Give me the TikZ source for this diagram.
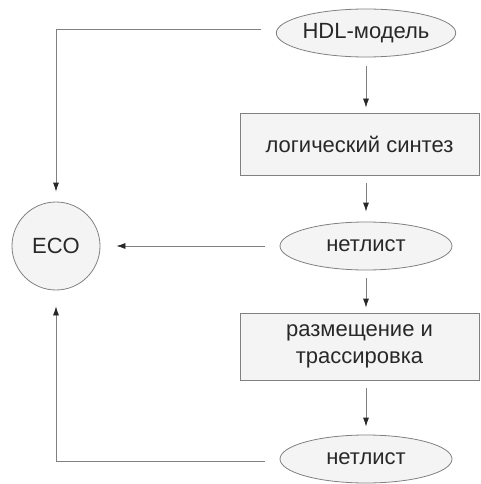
\documentclass[tikz,border=0pt]{standalone}
\usepackage{fontspec}
\setmainfont{Liberation Sans}
\usepackage{tikz}
\usetikzlibrary{positioning,arrows.meta,shapes.geometric}
\definecolor{edgegray}{RGB}{128,128,128}
\definecolor{fillgray}{RGB}{244,244,244}
\definecolor{textgray}{RGB}{40,40,40}
\tikzset{
  file-node/.style={ellipse, draw=edgegray, thick, fill=fillgray, text=textgray,
    minimum width=172pt, minimum height=48pt, inner sep=0pt,
    font=\fontsize{22}{27}\selectfont, align=center},
  step-node/.style={rectangle, draw=edgegray, thick, fill=fillgray, text=textgray,
    minimum width=239pt, inner sep=0pt,
    font=\fontsize{22}{27}\selectfont, align=center},
  eco-node/.style={circle, draw=edgegray, thick, fill=fillgray, text=textgray,
    minimum size=88pt, inner sep=0pt, font=\fontsize{22}{27}\selectfont},
  flow-arrow/.style={-{Latex[length=9pt,width=6pt,color=textgray]}, thick, draw=edgegray}
}
\begin{document}
\begin{tikzpicture}[x=1pt,y=-1pt]
\useasboundingbox (0,0) rectangle (480,484);
\node[file-node] (hdl) at (366,33) {HDL-модель};
\node[step-node, minimum height=62pt] (synth) at (359.5,144) {логический синтез};
\node[file-node] (netone) at (366,246) {нетлист};
\node[step-node, minimum height=67pt] (place) at (359.5,346.5) {размещение и\\трассировка};
\node[file-node] (nettwo) at (366,459) {нетлист};
\node[eco-node] (eco) at (56,246) {ECO};
% main flow
\draw[flow-arrow, shorten <=9pt, shorten >=5pt] (hdl) -- (hdl |- synth.north);
\draw[flow-arrow, shorten <=8pt, shorten >=10pt] (netone |- synth.south) -- (netone);
\draw[flow-arrow, shorten <=8pt, shorten >=5pt] (netone) -- (netone |- place.north);
\draw[flow-arrow, shorten <=8pt, shorten >=8pt] (nettwo |- place.south) -- (nettwo);
% feedback to ECO
\draw[flow-arrow, shorten <=15pt, shorten >=10pt] ([yshift=4pt]hdl.west) -| (eco.north);
\draw[flow-arrow, shorten <=15pt, shorten >=16pt] (netone.west) -- (eco.east);
\draw[flow-arrow, shorten <=15pt, shorten >=16pt] ([yshift=-2pt]nettwo.west) -| (eco.south);
\end{tikzpicture}
\end{document}
